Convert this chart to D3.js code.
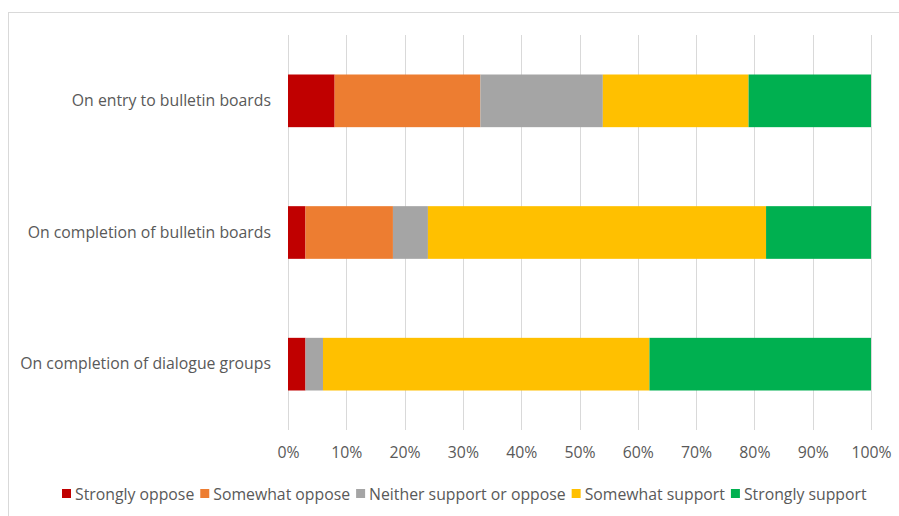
<!DOCTYPE html>
<html><head><meta charset="utf-8">
<script src="https://cdn.jsdelivr.net/npm/d3@7"></script>
<style>body{margin:0;background:#fff;} svg{display:block;}</style>
</head><body>
<svg id="c" width="899" height="516"></svg>
<script>
const categories = ["On entry to bulletin boards", "On completion of bulletin boards", "On completion of dialogue groups"];
const seriesNames = ["Strongly oppose", "Somewhat oppose", "Neither support or oppose", "Somewhat support", "Strongly support"];
const seriesColors = ["#C00000", "#ED7D31", "#A5A5A5", "#FFC000", "#00B050"];
const stronglyOppose = [8, 3, 3];
const somewhatOppose = [25, 15, 0];
const neither = [21, 6, 3];
const somewhatSupport = [25, 58, 56];
const stronglySupport = [21, 18, 38];
const tickValues = [0,10,20,30,40,50,60,70,80,90,100];

const series = [stronglyOppose, somewhatOppose, neither, somewhatSupport, stronglySupport];
const rows = categories.map((c,i)=>{const o={cat:c}; seriesNames.forEach((s,j)=>o[s]=series[j][i]); return o;});
const stacked = d3.stack().keys(seriesNames)(rows);

const svg = d3.select("#c");
const font = "Open Sans, Liberation Sans, sans-serif";
const fs = 15.8;
svg.append("rect").attr("x",8.5).attr("y",12.5).attr("width",895).attr("height",520)
  .attr("fill","#fff").attr("stroke","#D9D9D9").attr("stroke-width",1);

const x = d3.scaleLinear().domain([0,100]).range([288,871]);
const y = d3.scaleBand().domain(categories).range([35,430]).paddingInner(0.6).paddingOuter(0.3);

// gridlines
svg.append("g").selectAll("line").data(tickValues).join("line")
  .attr("x1",d=>Math.round(x(d))+0.5).attr("x2",d=>Math.round(x(d))+0.5)
  .attr("y1",35).attr("y2",430).attr("stroke","#D9D9D9").attr("stroke-width",1);

// bars
svg.append("g").selectAll("g").data(stacked).join("g")
  .attr("fill",(d,i)=>seriesColors[i])
  .selectAll("rect").data(d=>d).join("rect")
  .attr("x",d=>x(d[0])).attr("width",d=>x(d[1])-x(d[0]))
  .attr("y",d=>y(d.data.cat)).attr("height",y.bandwidth());

// x axis
const xa = svg.append("g").attr("transform","translate(0,430)")
  .call(d3.axisBottom(x).tickValues(tickValues).tickFormat(d=>d+"%").tickSize(0).tickPadding(17));
xa.select(".domain").remove();
xa.selectAll("text").attr("font-family",font).attr("font-size",fs).attr("fill","#595959");

// y axis
const ya = svg.append("g").attr("transform","translate(288,0)")
  .call(d3.axisLeft(y).tickSize(0).tickPadding(17));
ya.select(".domain").remove();
ya.selectAll("text").attr("font-family",font).attr("font-size",fs).attr("fill","#595959");

// legend
const legend = svg.append("g").attr("transform","translate(0,494)");
let lx = 62;
seriesNames.forEach((s,i)=>{
  legend.append("rect").attr("x",lx).attr("y",-5).attr("width",9).attr("height",9).attr("fill",seriesColors[i]);
  const t = legend.append("text").attr("x",lx+13).attr("y",0).attr("dy","0.35em")
    .attr("font-family",font).attr("font-size",fs).attr("fill","#595959").text(s);
  lx += 13 + t.node().getComputedTextLength() + 6;
});
</script>
</body></html>
